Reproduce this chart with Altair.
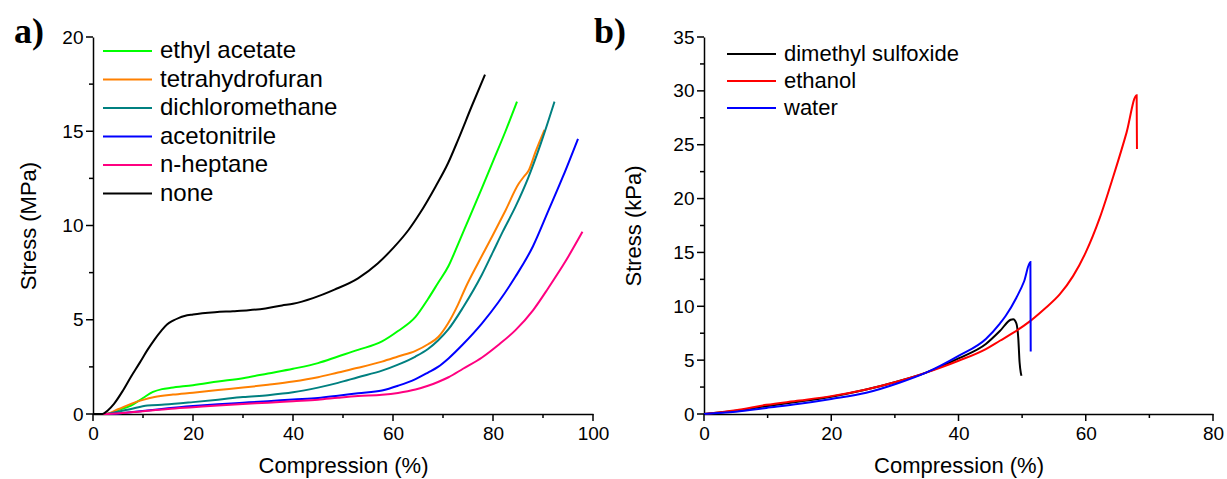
import altair as alt
import pandas as pd

# ---------------- panel a) : Stress (MPa) vs Compression (%) ----------------
a_series = ["ethyl acetate", "tetrahydrofuran", "dichloromethane", "acetonitrile", "n-heptane", "none"]
a_colors = ["#00FF00", "#FF8000", "#008080", "#0000FF", "#FF0080", "#000000"]

ethyl_x = [0, 2.9, 5, 7.6, 10, 12, 13.8, 15.6, 20, 25, 30, 35, 40, 45, 49, 53, 57.8, 61, 64.5, 67, 69, 71.1, 73, 75, 77.8, 80, 82.5, 84.8]
ethyl_y = [0, 0, 0.2, 0.45, 0.85, 1.17, 1.32, 1.39, 1.53, 1.72, 1.9, 2.15, 2.4, 2.7, 3.05, 3.4, 3.85, 4.4, 5.15, 6.1, 6.95, 7.85, 9.0, 10.25, 12.0, 13.4, 15.0, 16.57]

thf_x = [0, 2.5, 5, 7.6, 10, 12.3, 16, 20, 25, 30, 35, 40, 45, 49, 53, 57.8, 61, 64.5, 67, 69.1, 71, 73, 74.5, 77, 79.8, 82.5, 85.1, 86.2, 87.1, 88.5, 90.3]
thf_y = [0, 0, 0.25, 0.54, 0.75, 0.9, 1.03, 1.13, 1.27, 1.4, 1.55, 1.72, 1.95, 2.2, 2.45, 2.78, 3.05, 3.35, 3.7, 4.1, 4.8, 5.8, 6.7, 8.0, 9.4, 10.8, 12.2, 12.6, 12.9, 13.9, 15.07]

dcm_x = [0, 2.5, 5, 7.6, 10.9, 14.3, 20, 25, 30, 35, 40, 45, 49, 53, 57.8, 61, 64.5, 67, 69, 71.1, 74, 77.8, 80, 82, 84.5, 87, 89.5, 92.3]
dcm_y = [0, 0, 0.12, 0.27, 0.45, 0.5, 0.63, 0.76, 0.9, 1.0, 1.15, 1.4, 1.65, 1.95, 2.3, 2.62, 3.05, 3.45, 3.9, 4.5, 5.65, 7.4, 8.6, 9.7, 11.0, 12.5, 14.3, 16.57]

acn_x = [0, 3.5, 7, 10.9, 15, 20, 25, 30, 35, 40, 45, 49, 53, 57.8, 61, 64.5, 67, 69, 71.1, 74, 77.8, 81, 84.5, 88, 91.1, 94, 97]
acn_y = [0, 0, 0.08, 0.18, 0.3, 0.42, 0.52, 0.6, 0.68, 0.77, 0.85, 0.97, 1.1, 1.25, 1.5, 1.85, 2.2, 2.5, 2.95, 3.7, 4.81, 5.9, 7.29, 8.9, 10.8, 12.6, 14.6]

hep_x = [0, 2, 7, 10.9, 15, 20, 25, 30, 35, 40, 45, 49, 53, 57.8, 61, 64.5, 67, 69, 71.1, 74, 77.8, 81, 84.5, 88, 91.1, 94.5, 97.9]
hep_y = [0, 0, 0.08, 0.17, 0.27, 0.36, 0.45, 0.53, 0.6, 0.68, 0.76, 0.86, 0.95, 1.02, 1.12, 1.3, 1.5, 1.7, 1.95, 2.4, 3.0, 3.65, 4.45, 5.5, 6.7, 8.1, 9.67]

none_x = [0, 1.9, 3, 4.2, 6, 7.6, 9.3, 10.9, 12.3, 13.6, 14.8, 16, 17.2, 18.3, 20, 24.4, 28, 31.1, 34.5, 37.8, 40, 44, 48.3, 53, 57, 60.2, 63.1, 65.5, 68.5, 71, 73.1, 75.7, 78.4]
none_y = [0, 0, 0.2, 0.54, 1.25, 1.98, 2.7, 3.4, 3.95, 4.4, 4.75, 4.95, 5.1, 5.2, 5.28, 5.4, 5.45, 5.5, 5.6, 5.76, 5.85, 6.15, 6.6, 7.2, 8.0, 8.85, 9.76, 10.7, 12.06, 13.3, 14.6, 16.3, 18.0]

# ---------------- panel b) : Stress (kPa) vs Compression (%) ----------------
b_series = ["dimethyl sulfoxide", "ethanol", "water"]
b_colors = ["#000000", "#FF0000", "#0000FF"]

dmso_x = [0, 5, 9.8, 15, 20, 25, 30.7, 34.9, 40, 44.3, 46.5, 48.2, 48.6, 49.1, 49.4, 49.6, 49.8, 49.9]
dmso_y = [0, 0.3, 0.72, 1.15, 1.6, 2.2, 3.06, 3.84, 5.16, 6.5, 7.7, 8.75, 8.8, 8.4, 7.0, 4.8, 3.8, 3.55]

ethanol_x = [0, 5, 9.8, 15, 20, 25.5, 30.7, 34.9, 40, 44.3, 46.5, 48.5, 51.2, 53.5, 55.9, 58, 60, 62.2, 64.3, 66.4, 68, 68.05]
ethanol_y = [0, 0.35, 0.85, 1.25, 1.66, 2.28, 3.06, 3.84, 4.94, 6.03, 6.8, 7.5, 8.6, 9.75, 11.1, 12.8, 15.0, 18.2, 22.0, 26.1, 29.6, 24.6]

water_x = [0, 5, 9.8, 15, 20, 25.5, 30.7, 34.9, 40, 44.3, 46.5, 47.4, 49.1, 50.3, 51.3, 51.35]
water_y = [0, 0.2, 0.56, 0.95, 1.4, 1.97, 2.9, 3.84, 5.4, 6.97, 8.4, 9.1, 10.8, 12.3, 14.1, 5.8]

panel_labels = ["a)", "b)"]
a_title_x = "Compression (%)"
a_title_y = "Stress (MPa)"
b_title_x = "Compression (%)"
b_title_y = "Stress (kPa)"


def frame(names, xs_list, ys_list):
    rows = []
    for name, xs, ys in zip(names, xs_list, ys_list):
        for i, (x, y) in enumerate(zip(xs, ys)):
            rows.append({"series": name, "x": x, "y": y, "i": i})
    return pd.DataFrame(rows)


df_a = frame(a_series, [ethyl_x, thf_x, dcm_x, acn_x, hep_x, none_x],
             [ethyl_y, thf_y, dcm_y, acn_y, hep_y, none_y])
df_b = frame(b_series, [dmso_x, ethanol_x, water_x], [dmso_y, ethanol_y, water_y])

FONT = "Liberation Sans"
HEIGHT = 377


def major_axis(title, orient, vals, title_pad):
    return alt.Axis(
        title=title, orient=orient, values=vals, grid=False, ticks=False,
        labelFlush=False,
        domainColor="black", domainWidth=1.5,
        labelFont=FONT, labelFontSize=19, labelColor="black", labelPadding=10,
        titleFont=FONT, titleFontSize=22, titleFontWeight="normal", titleColor="black",
        titlePadding=title_pad,
    )


def panel(df, names, colors, xmax, ymax, xstep, ystep, tx, ty, label, width,
          legend_x, legend_y, row_pad, legend_font, ytitle_pad, label_x):
    x_major = [v * xstep for v in range(int(round(xmax / xstep)) + 1)]
    y_major = [v * ystep for v in range(int(round(ymax / ystep)) + 1)]
    x_minor = [v + xstep / 2 for v in x_major[:-1]]
    y_minor = [v + ystep / 2 for v in y_major[:-1]]
    sx = alt.Scale(domain=[0, xmax], nice=False, zero=True)
    sy = alt.Scale(domain=[0, ymax], nice=False, zero=True)
    ax_x = major_axis(tx, "bottom", x_major, 12)
    ax_y = major_axis(ty, "left", y_major, ytitle_pad)
    lines = alt.Chart(df).mark_line(strokeWidth=2, interpolate="monotone").encode(
        x=alt.X("x:Q", scale=sx, axis=ax_x),
        y=alt.Y("y:Q", scale=sy, axis=ax_y),
        color=alt.Color("series:N", sort=names,
                        scale=alt.Scale(domain=names, range=colors),
                        legend=alt.Legend(
                            title=None, orient="none", legendX=legend_x, legendY=legend_y,
                            symbolType="stroke", symbolSize=2401, symbolStrokeWidth=2,
                            clipHeight=22,
                            labelFont=FONT, labelFontSize=legend_font, labelColor="black",
                            labelOffset=7, labelLimit=400, rowPadding=row_pad, padding=0)),
        order="i:Q",
    )
    # tick marks drawn through the panel's own scales
    x_ticks_major = alt.Chart(pd.DataFrame({"x": x_major})).mark_rule(
        color="black", strokeWidth=1.5).encode(
        x=alt.X("x:Q", scale=sx, axis=ax_x), y=alt.value(HEIGHT), y2=alt.value(HEIGHT + 7))
    x_ticks_minor = alt.Chart(pd.DataFrame({"x": x_minor})).mark_rule(
        color="black", strokeWidth=1.5).encode(
        x=alt.X("x:Q", scale=sx, axis=ax_x), y=alt.value(HEIGHT), y2=alt.value(HEIGHT + 4))
    y_ticks_major = alt.Chart(pd.DataFrame({"y": y_major})).mark_rule(
        color="black", strokeWidth=1.5).encode(
        y=alt.Y("y:Q", scale=sy, axis=ax_y), x=alt.value(0), x2=alt.value(-7))
    y_ticks_minor = alt.Chart(pd.DataFrame({"y": y_minor})).mark_rule(
        color="black", strokeWidth=1.5).encode(
        y=alt.Y("y:Q", scale=sy, axis=ax_y), x=alt.value(0), x2=alt.value(-4))
    lab = alt.Chart(pd.DataFrame({"t": [label]})).mark_text(
        font="Liberation Serif", fontSize=36, fontWeight="bold", align="left",
        baseline="alphabetic", color="black"
    ).encode(text="t:N", x=alt.value(label_x), y=alt.value(6))
    return alt.layer(lines, x_ticks_major, x_ticks_minor, y_ticks_major, y_ticks_minor, lab
                     ).properties(width=width, height=HEIGHT)


left = panel(df_a, a_series, a_colors, 100, 20, 20, 5, a_title_x, a_title_y,
             panel_labels[0], 500, 9, 3, 4.5, 24, 21, -79)
right = panel(df_b, b_series, b_colors, 80, 35, 20, 5, b_title_x, b_title_y,
              panel_labels[1], 509, 22, 6, 5, 22, 27, -110)

chart = alt.hconcat(left, right, spacing=111, bounds="flush").resolve_scale(
    color="independent"
).configure_view(stroke=None).properties(
    padding={"left": 14, "top": 14, "right": 0, "bottom": 2},
    background="white",
)

chart.save("out.html", embed_options={"renderer": "svg", "actions": False})
